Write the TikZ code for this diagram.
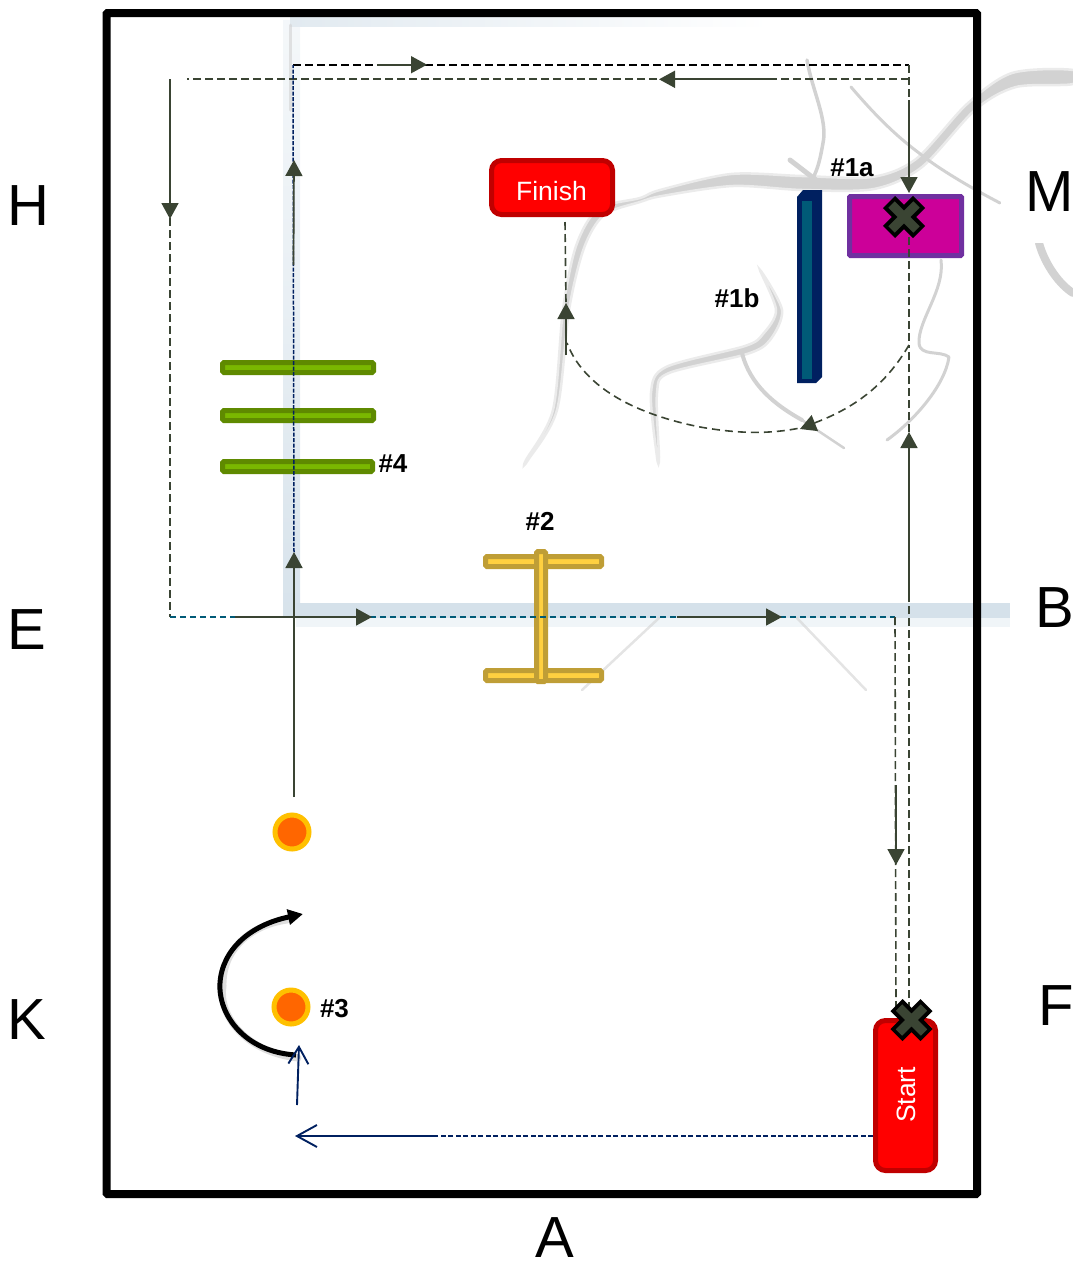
\documentclass[tikz,border=0pt]{standalone}
\usepackage{fontspec}
\setmainfont{Liberation Sans}
\usetikzlibrary{arrows.meta,calc}
\definecolor{pathc}{HTML}{3A4433}
\definecolor{navyc}{HTML}{002060}
\definecolor{tealc}{HTML}{005A77}
\definecolor{vein}{HTML}{D2D2D2}
\definecolor{bandc}{HTML}{D5E1EA}
\tikzset{
  x=1pt,y=-1pt,
  veinline/.style={vein,line cap=round,line join=round,line width=#1},
  veinline/.default=3,
  veinshape/.style={fill=vein,draw=vein!45,line width=2.5},
  route/.style={pathc,line width=1.6,dash pattern=on 8pt off 4pt},
  routeblack/.style={black,line width=1.5,dash pattern=on 8pt off 4pt},
  routenavy/.style={navyc,line width=1.5,dash pattern=on 4pt off 1.5pt},
  routenavyb/.style={navyc,line width=1.6,dash pattern=on 5pt off 2.5pt},
  routeteal/.style={tealc,line width=1.6,dash pattern=on 6pt off 4pt},
  routearc/.style={pathc,line width=1.6,dash pattern=on 8pt off 5pt},
  solidarrow/.style={pathc,line width=1.7,-{Triangle[length=16pt,width=17pt]}},
  openarrow/.style={navyc,line width=1.9,-{Straight Barb[length=20pt,width=22pt,line width=1.9pt]}},
  openarrowb/.style={navyc,line width=1.9,-{Straight Barb[length=17pt,width=20pt,line width=1.9pt]}},
  redbox/.style={draw={rgb,255:red,192;green,0;blue,0},fill=red,line width=5,rounded corners=10,inner sep=0,text=white},
  greenbar/.style={draw={rgb,255:red,95;green,138;blue,0},fill={rgb,255:red,122;green,184;blue,0},line width=5,rounded corners=1.5,inner sep=0},
  goldbar/.style={draw={rgb,255:red,191;green,158;blue,54},fill={rgb,255:red,255;green,208;blue,64},line width=5,rounded corners=1.5,inner sep=0},
  dot/.style={circle,draw={rgb,255:red,255;green,192;blue,0},fill={rgb,255:red,255;green,102;blue,0},line width=5,minimum size=34,inner sep=0},
  sidelabel/.style={font=\fontsize{58}{60}\selectfont,inner sep=0},
  tag/.style={font=\fontsize{26}{28}\selectfont\bfseries,inner sep=0},
  boxtext/.style={text=white,font=\fontsize{26.5}{28}\selectfont,inner sep=0},
  xmark/.pic={
    \draw[black,line width=17] (-15,-15) -- (15,15) (-15,15) -- (15,-15);
    \draw[pathc,line width=9] (-12.5,-12.5) -- (12.5,12.5) (-12.5,12.5) -- (12.5,-12.5);
  }
}
\begin{document}
\begin{tikzpicture}
\useasboundingbox (0,0) rectangle (1073,1262);
% watermark: bands
\shade[top color=bandc!25,bottom color=bandc!95,middle color=bandc!55] (283,20) rectangle (300,617);
\shade[left color=bandc!70,right color=white] (290,17) rectangle (770,26);
\fill[bandc] (296,603) rectangle (1010,618);
\fill[bandc!35] (296,618) rectangle (1010,627);
% watermark: veins
\draw[veinline=3,opacity=.6] (290,25) -- (290,110);
\draw[veinshape] plot[smooth cycle] coordinates {(526,460) (553,410) (563,310) (576,246) (598,209) (640,198) (660,190) (731,174) (802,176) (872,177) (916,159) (967,104) (1012,73) (1073,70) (1073,84) (1016,87) (975,110) (922,167) (874,189) (802,190) (733,186) (662,196) (640,202) (604,215) (584,248) (569,310) (557,410) (528,460)};
\draw[veinshape] plot[smooth cycle] coordinates {(760,270) (782,310) (770,340) (747,354) (669,373) (657,393) (659,457) (657,457) (651,393) (666,367) (745,346) (763,334) (776,310)};
\draw[veinline=3.5] (807,60) .. controls (812,90) and (828,120) .. (823,143) .. controls (820,160) and (818,168) .. (813,178);
\draw[veinline=5] (790,160) -- (816,180);
\draw[veinline=3] (851,87) .. controls (875,115) and (895,135) .. (919,153) .. controls (940,170) and (975,190) .. (1000,203);
\draw[veinline=4] (742,353) .. controls (750,385) and (775,405) .. (802,420);
\draw[veinline=2.5] (802,420) -- (844,448);
\draw[veinline=3] (941,260) .. controls (945,290) and (918,320) .. (919,343) .. controls (920,357) and (940,350) .. (949,357) .. controls (945,385) and (915,420) .. (887,440);
\draw[veinline=8] (1039,243) .. controls (1045,265) and (1060,285) .. (1073,293);
\draw[veinline=2.5,opacity=.6] (659,618) -- (582,690);
\draw[veinline=2.5,opacity=.6] (797,618) -- (866,690);
\fill[white] (1001,120) rectangle (1073,243);
% frame
\draw[line width=8,rounded corners=1] (106.5,13) rectangle (977,1194);
% side labels
\node[sidelabel] (lH) at (28,206) {H};
\node[sidelabel] (lM) at (1050,192) {M};
\node[sidelabel] (lE) at (27,630) {E};
\node[sidelabel] (lB) at (1055,608) {B};
\node[sidelabel] (lK) at (27,1020) {K};
\node[sidelabel] (lF) at (1056,1006) {F};
\node[sidelabel] (lA) at (555,1238) {A};
% obstacles
\node[draw={rgb,255:red,112;green,48;blue,160},fill={rgb,255:red,204;green,0;blue,153},line width=5,rounded corners=1,minimum width=112,minimum height=59,inner sep=0] (target) at (905.5,226) {};
\fill[navyc] (803,190) -- (822,190) -- (822,377) -- (816,383) -- (797,383) -- (797,197) -- cycle;
\fill[tealc] (802,201) rectangle (812,379);
\node[greenbar,minimum width=151,minimum height=10] (g1) at (298,367.5) {};
\node[greenbar,minimum width=151,minimum height=10] (g2) at (298,415.5) {};
\node[greenbar,minimum width=150,minimum height=10] (g3) at (297.5,466.5) {};
\node[goldbar,minimum width=116,minimum height=10] (h1) at (543.5,561.5) {};
\node[goldbar,minimum width=116,minimum height=10] (h2) at (543.5,675.5) {};
\node[goldbar,minimum width=9,minimum height=130] (h3) at (541,616.5) {};
\node[dot] (dotA) at (292,832) {};
\node[dot] (dotB) at (291,1007) {};
\node[redbox,minimum width=121,minimum height=54] (finish) at (552,187.5) {};
\node[boxtext] (finishtext) at (551.5,191) {Finish};
\node[redbox,minimum width=60,minimum height=150] (start) at (905.5,1095.5) {};
\node[boxtext,rotate=90] (starttext) at (906.5,1095) {Start};
% tags
\node[tag] (t1a) at (852,168) {\#1a};
\node[tag] (t1b) at (737,298) {\#1b};
\node[tag] (t2) at (540,521) {\#2};
\node[tag] (t3) at (334.5,1009) {\#3};
\node[tag] (t4) at (393,464) {\#4};
% route coordinates
\coordinate (a) at (294,797);
\coordinate (b) at (294,552);
\coordinate (c) at (293.5,265);
\coordinate (d) at (294,160);
\coordinate (e) at (293,65);
\coordinate (f) at (909,65);
\coordinate (g) at (909,79);
\coordinate (h) at (170,79);
\coordinate (i) at (170,617);
\coordinate (j) at (895,617);
\coordinate (k) at (896,1010);
\coordinate (l) at (909,1010);
\coordinate (m) at (909,600);
\coordinate (n) at (909,432);
\coordinate (o) at (909,345);
\coordinate (p) at (566,355);
\coordinate (q) at (566,303);
\coordinate (r) at (565,222);
% routes
\draw[routeblack] (e) -- (f);
\draw[route] (f) -- (909,100);
\draw[route] (g) -- (187,79);
\draw[route] (170,218) -- (i);
\draw[routenavy] (b) -- (e);
\draw[routeteal] (i) -- (j);
\draw[route] (j) -- (k);
\draw[route] (l) -- (m);
\draw[route] (n) -- (o);
\draw[route] (r) -- (q);
\draw[routearc] (o) .. controls (880,395) and (840,415) .. (800,428) .. controls (770,434) and (740,434) .. (700,427) .. controls (640,415) and (585,390) .. (567,343);
% solid arrows
\draw[solidarrow] (a) -- (b);
\draw[solidarrow] (c) -- (d);
\draw[solidarrow] (377,64.7) -- (427,64.7);
\draw[solidarrow] (909,100) -- (909,193);
\draw[solidarrow] (770,79.3) -- (659,79.3);
\draw[pathc,line width=1.6] (h) -- (170,90);
\draw[solidarrow] (170,90) -- (170,219);
\draw[solidarrow] (235,617) -- (372,617);
\draw[solidarrow] (677,617) -- (782,617);
\draw[solidarrow] (896,785) -- (896,865);
\draw[solidarrow] (m) -- (n);
\draw[solidarrow] (p) -- (q);
\draw[pathc,line width=1.4,-{Triangle[length=16pt,width=17pt]}] (815,423) -- (800,429);
% entry
\coordinate (s0) at (start.west |- 0,1136);
\coordinate (s1) at (437,1136);
\coordinate (s2) at (295,1136);
\coordinate (s3) at (297,1105);
\coordinate (s4) at (299,1045);
\draw[routenavyb] (s0) -- (s1);
\draw[openarrow] (s1) -- (s2);
% turn
\coordinate (u1) at (296,1055);
\coordinate (u2) at (303,914);
\draw[black,opacity=.13,line width=7,line cap=round] ($(u1)+(2,3)$) .. controls (245,1052) and (218,1015) .. ($(220,983)+(3,3)$) .. controls (222,950) and (250,925) .. ($(285,917)+(2,3)$);
\draw[black,line width=5,-{Triangle[length=15pt,width=15pt]}] (u1) .. controls (245,1052) and (218,1015) .. (220,983) .. controls (222,950) and (250,925) .. (u2);
\draw[openarrowb] (s3) -- (s4);
% x marks
\pic at (904,217) {xmark};
\pic at (911.5,1020) {xmark};
\draw[route] (909,237) -- (909,345);
\end{tikzpicture}
\end{document}
